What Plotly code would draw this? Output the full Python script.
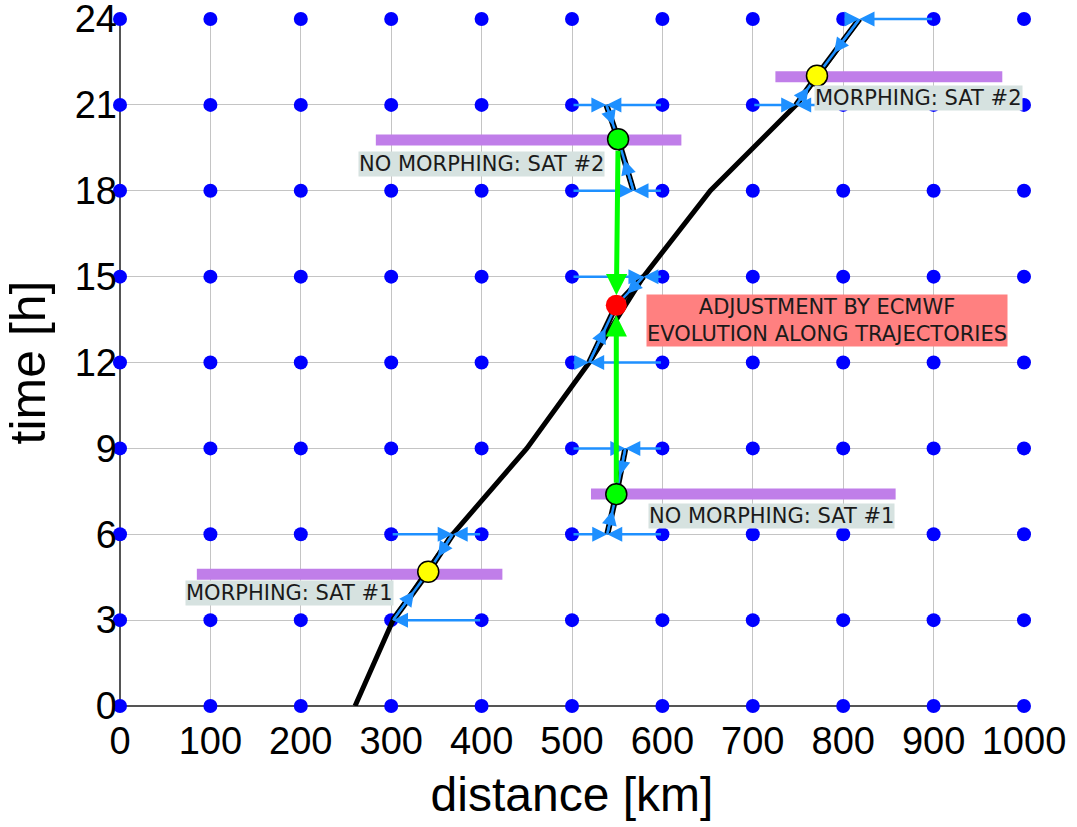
import plotly.graph_objects as go

# ---------------- data ----------------
grid_x = list(range(0, 1001, 100))
grid_t = list(range(0, 25, 3))

traj_t = [0, 3, 6, 9, 12, 15, 18, 21, 24]
traj_x = [260, 302, 368, 450, 519, 579, 653, 748, 818]

event_x = [341, 549, 549, 551, 771]
event_t = [4.69, 7.40, 14.0, 19.8, 22.02]
event_color = ["#ffff00", "#00ff00", "#ff0000", "#00ff00", "#ffff00"]
event_outline = [1.5, 1.5, 0, 1.5, 1.5]

seg_from_x = [302, 368, 539, 559, 519, 579, 568, 538, 748, 818]
seg_from_t = [3, 6, 6, 9, 12, 15, 18, 21, 21, 24]
seg_event = [0, 0, 1, 1, 2, 2, 3, 3, 4, 4]

harrow_start = [400, 300, 400, 500, 600, 500, 600, 500, 600, 500, 600, 500, 600, 500, 600, 700, 800, 800, 900]
harrow_end = [302, 368, 368, 539, 539, 559, 559, 519, 519, 579, 579, 568, 568, 538, 538, 748, 748, 818, 818]
harrow_t = [3, 6, 6, 6, 6, 9, 9, 12, 12, 15, 15, 18, 18, 21, 21, 21, 21, 24, 24]

green_from = [1, 3]
green_to = [2, 2]

bar_x0 = [85, 521, 283, 725]
bar_x1 = [423, 858, 621, 976]
bar_t = [4.60, 7.41, 19.77, 21.98]

label_text = ["MORPHING: SAT #1", "NO MORPHING: SAT #1", "NO MORPHING: SAT #2", "MORPHING: SAT #2"]
label_x = [187.5, 720.6, 400, 883]
label_t = [3.95, 6.65, 18.95, 21.24]

adj_text = "ADJUSTMENT BY ECMWF<br>EVOLUTION ALONG TRAJECTORIES"
adj_x = 782.6
adj_t = 13.45

x_ticks = grid_x
t_ticks = grid_t

BLUE = "#1e90ff"
PURPLE = "#c07ee9"

fig = go.Figure()

# grid dots
gx, gt = [], []
for t in grid_t:
    for x in grid_x:
        gx.append(x)
        gt.append(t)
fig.add_trace(go.Scatter(x=gx, y=gt, mode="markers",
                         marker=dict(color="#0000ff", size=14),
                         cliponaxis=False, hoverinfo="skip"))

# satellite bars
for x0, x1, t in zip(bar_x0, bar_x1, bar_t):
    fig.add_trace(go.Scatter(x=[x0, x1], y=[t, t], mode="lines",
                             line=dict(color=PURPLE, width=11), hoverinfo="skip"))

# main trajectory
fig.add_trace(go.Scatter(x=traj_x, y=traj_t, mode="lines",
                         line=dict(color="black", width=5), hoverinfo="skip"))

# local trajectory segments (black outline + blue)
for fx, ft, ei in zip(seg_from_x, seg_from_t, seg_event):
    fig.add_trace(go.Scatter(x=[fx, event_x[ei]], y=[ft, event_t[ei]], mode="lines",
                             line=dict(color="black", width=6), hoverinfo="skip"))
for fx, ft, ei in zip(seg_from_x, seg_from_t, seg_event):
    fig.add_trace(go.Scatter(x=[fx, event_x[ei]], y=[ft, event_t[ei]], mode="lines",
                             line=dict(color=BLUE, width=2.5), hoverinfo="skip"))

annotations = []
# mid-arrowheads along segments
for fx, ft, ei in zip(seg_from_x, seg_from_t, seg_event):
    mx = fx + 0.6 * (event_x[ei] - fx)
    mt = ft + 0.6 * (event_t[ei] - ft)
    annotations.append(dict(x=mx, y=mt, ax=fx, ay=ft, xref="x", yref="y",
                            axref="x", ayref="y", text="", showarrow=True,
                            arrowhead=2, arrowsize=1.2, arrowwidth=2.5,
                            arrowcolor=BLUE))
# horizontal arrows
for xs, xe, t in zip(harrow_start, harrow_end, harrow_t):
    annotations.append(dict(x=xe, y=t, ax=xs, ay=t, xref="x", yref="y",
                            axref="x", ayref="y", text="", showarrow=True,
                            arrowhead=2, arrowsize=1.2, arrowwidth=2.5,
                            arrowcolor=BLUE))
# green arrows
for a, b in zip(green_from, green_to):
    annotations.append(dict(x=event_x[b], y=event_t[b], ax=event_x[a], ay=event_t[a],
                            xref="x", yref="y", axref="x", ayref="y", text="",
                            showarrow=True, arrowhead=2, arrowsize=0.85, arrowwidth=5,
                            arrowcolor="#00ff00", standoff=10, startstandoff=10))

# events
fig.add_trace(go.Scatter(x=event_x, y=event_t, mode="markers",
                         marker=dict(color=event_color, size=21,
                                     line=dict(color="black", width=event_outline)),
                         cliponaxis=False, hoverinfo="skip"))

# labels
for txt, x, t in zip(label_text, label_x, label_t):
    annotations.append(dict(x=x, y=t, xref="x", yref="y", text=txt, showarrow=False,
                            font=dict(family="DejaVu Sans", size=21, color="#1a1a1a"),
                            bgcolor="#d6e2e0", borderpad=0))
annotations.append(dict(x=adj_x, y=adj_t, xref="x", yref="y", text=adj_text,
                        showarrow=False,
                        font=dict(family="DejaVu Sans", size=21, color="#1a1a1a"),
                        bgcolor="#ff8080", borderpad=0))

fig.update_layout(
    width=1077, height=827,
    margin=dict(l=120, r=53, t=19, b=121, autoexpand=False),
    paper_bgcolor="white", plot_bgcolor="white",
    showlegend=False,
    annotations=annotations,
    font=dict(family="Liberation Sans", color="black"),
)
fig.update_xaxes(range=[0, 1000], tickvals=x_ticks, ticktext=[str(v) for v in x_ticks],
                 tickfont=dict(size=38), showgrid=True, gridcolor="#c4c4c4", gridwidth=1,
                 zeroline=True, zerolinecolor="#555555", zerolinewidth=1.5,
                 title=dict(text="distance [km]", font=dict(size=48), standoff=16),
                 ticks="", showline=False, ticklabeloverflow="allow", automargin=False,
                 ticklabelstandoff=9)
fig.update_yaxes(range=[0, 24], tickvals=t_ticks, ticktext=[str(v) for v in t_ticks],
                 tickfont=dict(size=38), showgrid=True, gridcolor="#c4c4c4", gridwidth=1,
                 zeroline=True, zerolinecolor="#555555", zerolinewidth=1.5,
                 title=dict(text="time [h]", font=dict(size=50), standoff=16),
                 ticks="", showline=False, ticklabeloverflow="allow", automargin=False,
                 ticklabelstandoff=2)

fig.write_html("out.html", config={"displayModeBar": False},
               post_script="document.body.style.margin='0px';")
